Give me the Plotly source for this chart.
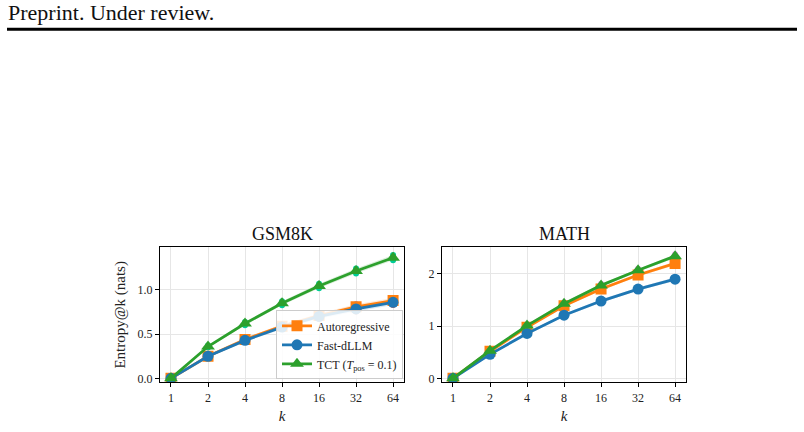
import plotly.graph_objects as go

k_vals = [1, 2, 4, 8, 16, 32, 64]
k_labels = ["1", "2", "4", "8", "16", "32", "64"]

gsm_ar = [0.0, 0.25, 0.44, 0.59, 0.71, 0.81, 0.88]
gsm_fast = [0.0, 0.25, 0.43, 0.58, 0.70, 0.785, 0.86]
gsm_tct = [0.0, 0.36, 0.62, 0.85, 1.045, 1.215, 1.365]

math_ar = [0.0, 0.52, 0.98, 1.39, 1.71, 1.98, 2.20]
math_fast = [0.0, 0.46, 0.86, 1.21, 1.48, 1.71, 1.90]
math_tct = [0.0, 0.53, 1.01, 1.43, 1.78, 2.07, 2.34]

# half-width of the faint shaded bands
band_gsm = [0.0, 0.012, 0.018, 0.022, 0.025, 0.028, 0.03]
band_math = [0.0, 0.015, 0.02, 0.025, 0.03, 0.03, 0.035]

series_names = ["Autoregressive", "Fast-dLLM", "TCT (<i>T</i><sub>pos</sub> = 0.1)"]
colors = ["#ff7f0e", "#1f77b4", "#2ca02c"]
fills = ["rgba(255,127,14,0.18)", "rgba(31,119,180,0.18)", "rgba(44,160,44,0.18)"]
symbols = ["square", "circle", "triangle-up"]

FONT = "Liberation Serif"

fig = go.Figure()

panels = [
    ([gsm_ar, gsm_fast, gsm_tct], band_gsm, "x", "y", True),
    ([math_ar, math_fast, math_tct], band_math, "x2", "y2", False),
]

for data, band, xa, ya, showleg in panels:
    for i, vals in enumerate(data):
        upper = [v + b for v, b in zip(vals, band)]
        lower = [v - b for v, b in zip(vals, band)]
        fig.add_trace(go.Scatter(
            x=k_vals + k_vals[::-1], y=upper + lower[::-1],
            fill="toself", fillcolor=fills[i], line=dict(width=0),
            hoverinfo="skip", showlegend=False, xaxis=xa, yaxis=ya))
    for i, vals in enumerate(data):
        fig.add_trace(go.Scatter(
            x=k_vals, y=vals, mode="lines+markers", name=series_names[i],
            line=dict(color=colors[i], width=2.8),
            marker=dict(symbol=symbols[i], size=11 if symbols[i] != "triangle-up" else 12,
                        color=colors[i], line=dict(width=0)),
            showlegend=showleg, xaxis=xa, yaxis=ya))

xr = [-0.0894, 1.895]
common_x = dict(type="log", range=xr, tickvals=k_vals, ticktext=k_labels,
                showline=True, mirror=True, linecolor="black", linewidth=1,
                ticks="outside", ticklen=4, tickcolor="black",
                showgrid=True, gridcolor="#e6e6e6", gridwidth=1,
                tickfont=dict(family=FONT, size=12, color="#222"),
                title=dict(text="<i>k</i>", font=dict(family=FONT, size=15, color="#222"), standoff=6),
                zeroline=False)
common_y = dict(showline=True, mirror=True, linecolor="black", linewidth=1,
                ticks="outside", ticklen=4, tickcolor="black",
                showgrid=True, gridcolor="#e6e6e6", gridwidth=1,
                tickfont=dict(family=FONT, size=12, color="#222"),
                zeroline=False)

fig.update_layout(
    width=804, height=432,
    margin=dict(l=0, r=0, t=0, b=0),
    paper_bgcolor="white", plot_bgcolor="white",
    font=dict(family=FONT, color="#222"),
    xaxis=dict(domain=[160/804, 404/804], anchor="y", **common_x),
    xaxis2=dict(domain=[442/804, 686/804], anchor="y2", **common_x),
    yaxis=dict(domain=[1-385/432, 1-249/432], anchor="x", range=[-0.045, 1.483],
               tickvals=[0, 0.5, 1.0], ticktext=["0.0", "0.5", "1.0"],
               title=dict(text="Entropy@k (nats)", font=dict(family=FONT, size=15, color="#222"), standoff=8),
               **common_y),
    yaxis2=dict(domain=[1-385/432, 1-249/432], anchor="x2", range=[-0.076, 2.51],
                tickvals=[0, 1, 2], ticktext=["0", "1", "2"], **common_y),
    legend=dict(x=403/804, y=1-382/432, xanchor="right", yanchor="bottom",
                bgcolor="rgba(255,255,255,0.85)", bordercolor="#cccccc", borderwidth=1,
                font=dict(family=FONT, size=12, color="#222"),
                tracegroupgap=0, itemwidth=30),
    showlegend=True,
)

fig.add_annotation(text="GSM8K", x=(160+404)/2/804, y=1-236/432, xref="paper", yref="paper",
                   xanchor="center", showarrow=False,
                   font=dict(family=FONT, size=18, color="#111"), yanchor="middle")
fig.add_annotation(text="MATH", x=(442+686)/2/804, y=1-236/432, xref="paper", yref="paper",
                   xanchor="center", showarrow=False,
                   font=dict(family=FONT, size=18, color="#111"), yanchor="middle")
fig.add_annotation(text="Preprint. Under review.", x=6/804, y=1-13/432, xref="paper", yref="paper",
                   xanchor="left", yanchor="middle", showarrow=False,
                   font=dict(family=FONT, size=22, color="#111"))
fig.add_shape(type="line", xref="paper", yref="paper", x0=7/804, x1=797/804,
              y0=1-29.5/432, y1=1-29.5/432, line=dict(color="black", width=3))

fig.write_html("out.html")
